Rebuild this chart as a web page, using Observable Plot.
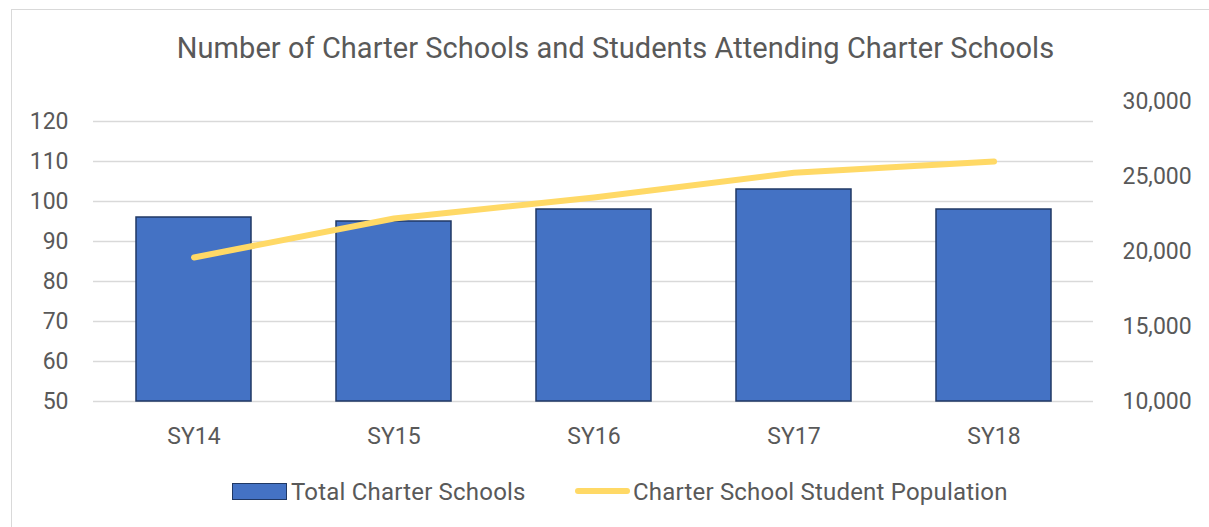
<!DOCTYPE html>
<html>
<head>
<meta charset="utf-8">
<script src="https://cdn.jsdelivr.net/npm/d3@7"></script>
<script src="https://cdn.jsdelivr.net/npm/@observablehq/plot@0.6"></script>
<style>
  html, body { margin: 0; padding: 0; background: #fff; }
  #wrap { position: relative; width: 1209px; height: 527px; overflow: hidden; font-family: Roboto, "Noto Sans", sans-serif; color: #595959; }
  #frame { position: absolute; left: 11px; top: 9px; width: 1300px; height: 600px; border-left: 1.5px solid #D9D9D9; border-top: 1.5px solid #D9D9D9; }
  #title { position: absolute; left: 0; width: 1231px; top: 34px; text-align: center; font-size: 29px; line-height: 29px; white-space: nowrap; letter-spacing: 0.05px; }
  #chart { position: absolute; left: 0; top: 0; }
  .leg { position: absolute; font-size: 24px; line-height: 24px; white-space: nowrap; top: 480px; letter-spacing: 0.2px; }
  .sw-bar { position: absolute; left: 232px; top: 483px; width: 53px; height: 15px; background: #4472C4; border: 1.5px solid #203864; }
  .sw-line { position: absolute; left: 575px; top: 488px; width: 55px; height: 6px; background: #FFD966; border-radius: 3px; }
</style>
</head>
<body>
<div id="wrap">
  <div id="frame"></div>
  <div id="chart"></div>
  <div id="title">Number of Charter Schools and Students Attending Charter Schools</div>
  <div class="sw-bar"></div>
  <div class="leg" style="left:291px">Total Charter Schools</div>
  <div class="sw-line"></div>
  <div class="leg" style="left:633px">Charter School Student Population</div>
</div>
<script>
const categories = ["SY14", "SY15", "SY16", "SY17", "SY18"];
const totalSchools = [96, 95, 98, 103, 98];
const studentPopulation = [19600, 22200, 23600, 25250, 26000];
const leftTicks = [50, 60, 70, 80, 90, 100, 110, 120];
const rightTicks = [10000, 15000, 20000, 25000, 30000];

// secondary axis: 10,000 aligns with 50; 5,000 students span 18.75 primary units
const toPrimary = v => 50 + (v - 10000) / (5000 / 18.75);

const data = categories.map((c, i) => ({
  cat: c,
  schools: totalSchools[i],
  pop: studentPopulation[i]
}));

const chart = Plot.plot({
  width: 1209,
  height: 527,
  marginTop: 121,
  marginBottom: 126,
  marginLeft: 93,
  marginRight: 116,
  style: { fontFamily: "Roboto, 'Noto Sans', sans-serif", fontSize: "23px", color: "#595959", background: "transparent", overflow: "visible" },
  x: { domain: categories, paddingInner: 0.425, paddingOuter: 0.2125, label: null },
  y: { domain: [50, 120], label: null },
  marks: [
    Plot.ruleY(leftTicks, { stroke: "#D9D9D9", strokeWidth: 1.4 }),
    Plot.barY(data, { x: "cat", y1: 50, y2: "schools", fill: "#4472C4", stroke: "#203864", strokeWidth: 1.5 }),
    Plot.line(data, { x: "cat", y: d => toPrimary(d.pop), stroke: "#FFD966", strokeWidth: 6, strokeLinecap: "round", strokeLinejoin: "round" }),
    Plot.axisY({ ticks: leftTicks, tickSize: 0, tickPadding: 25, label: null, tickFormat: d => String(d) }),
    Plot.axisX({ tickSize: 0, tickPadding: 26, label: null }),
    Plot.text(rightTicks, { y: d => toPrimary(d), frameAnchor: "right", dx: 29, textAnchor: "start", text: d => d3.format(",")(d), fill: "#595959", fontSize: 23 })
  ]
});
document.getElementById("chart").appendChild(chart);
</script>
</body>
</html>
